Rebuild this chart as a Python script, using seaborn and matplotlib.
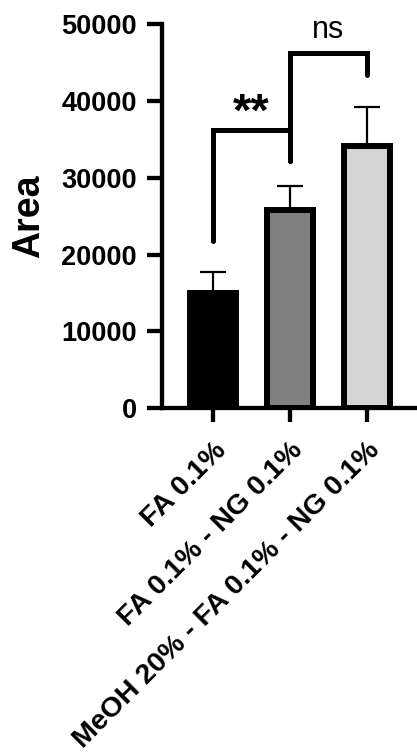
import matplotlib
matplotlib.use("Agg")
import matplotlib.pyplot as plt
import seaborn as sns
import pandas as pd

# ---- data ----
categories = ["FA 0.1%", "FA 0.1% - NG 0.1%", "MeOH 20% - FA 0.1% - NG 0.1%"]
means = [15000, 25800, 34100]
err_upper = [2800, 3100, 5100]
bar_colors = ["#000000", "#808080", "#d4d4d4"]

# significance brackets: (left idx, right idx, top, left leg bottom, right leg bottom, label)
br_left = [0, 1]
br_right = [1, 2]
br_top = [36200, 46200]
br_left_bottom = [21800, 32200]
br_right_bottom = [32200, 43400]
br_labels = ["**", "ns"]
br_label_y = [38400, 49300]

yticks = [0, 10000, 20000, 30000, 40000, 50000]

sns.set_style("ticks")
plt.rcParams["font.family"] = ["Liberation Sans", "DejaVu Sans"]
for k in ["text.color", "axes.labelcolor", "xtick.color", "ytick.color", "axes.edgecolor"]:
    plt.rcParams[k] = "black"

df = pd.DataFrame({"cond": categories, "area": means})

fig = plt.figure(figsize=(4.17, 7.56), dpi=100)
ax = fig.add_axes([162 / 417, 1 - 408.3 / 756, 1 - 162 / 417, (408.3 - 24.3) / 756])

sns.barplot(data=df, x="cond", y="area", hue="cond", palette=bar_colors,
            order=categories, hue_order=categories, legend=False,
            errorbar=None, width=0.6, edgecolor="black", linewidth=4.3,
            ax=ax, zorder=3)

xpos = list(range(len(categories)))
ax.errorbar(xpos, means, yerr=[[0] * len(means), err_upper], fmt="none",
            ecolor="black", elinewidth=1.6, capsize=9.4, capthick=1.6, zorder=2)

for l, r, top, lb, rb, lab, ly in zip(br_left, br_right, br_top, br_left_bottom,
                                       br_right_bottom, br_labels, br_label_y):
    ax.plot([xpos[l], xpos[l], xpos[r], xpos[r]], [lb, top, top, rb],
            color="black", lw=3.6, solid_joinstyle="miter", clip_on=False, zorder=4)
    if lab == "**":
        ax.text((xpos[l] + xpos[r]) / 2, ly, lab, ha="center", va="center",
                fontsize=34, fontweight="bold", clip_on=False)
    else:
        ax.text((xpos[l] + xpos[r]) / 2, ly, lab, ha="center", va="center",
                fontsize=22, clip_on=False)

ax.set_xlim(-0.66, 2.65)
ax.set_ylim(0, 50000)
ax.set_yticks(yticks)
ax.set_yticklabels([str(v) for v in yticks], fontsize=19.5, fontweight="bold")
ax.set_xticks(xpos)
ax.set_xticklabels(categories, fontsize=20.5, fontweight="bold", rotation=45,
                   ha="right", rotation_mode="anchor")
ax.set_xlabel("")
ax.set_ylabel("Area", fontsize=27, fontweight="bold", labelpad=10)

for s in ["top", "right"]:
    ax.spines[s].set_visible(False)
for s in ["left", "bottom"]:
    ax.spines[s].set_linewidth(3.1)
ax.tick_params(axis="y", length=11, width=3.1, pad=7)
ax.tick_params(axis="x", length=10, width=3.1, pad=11)

fig.savefig("out.png", dpi=100)
